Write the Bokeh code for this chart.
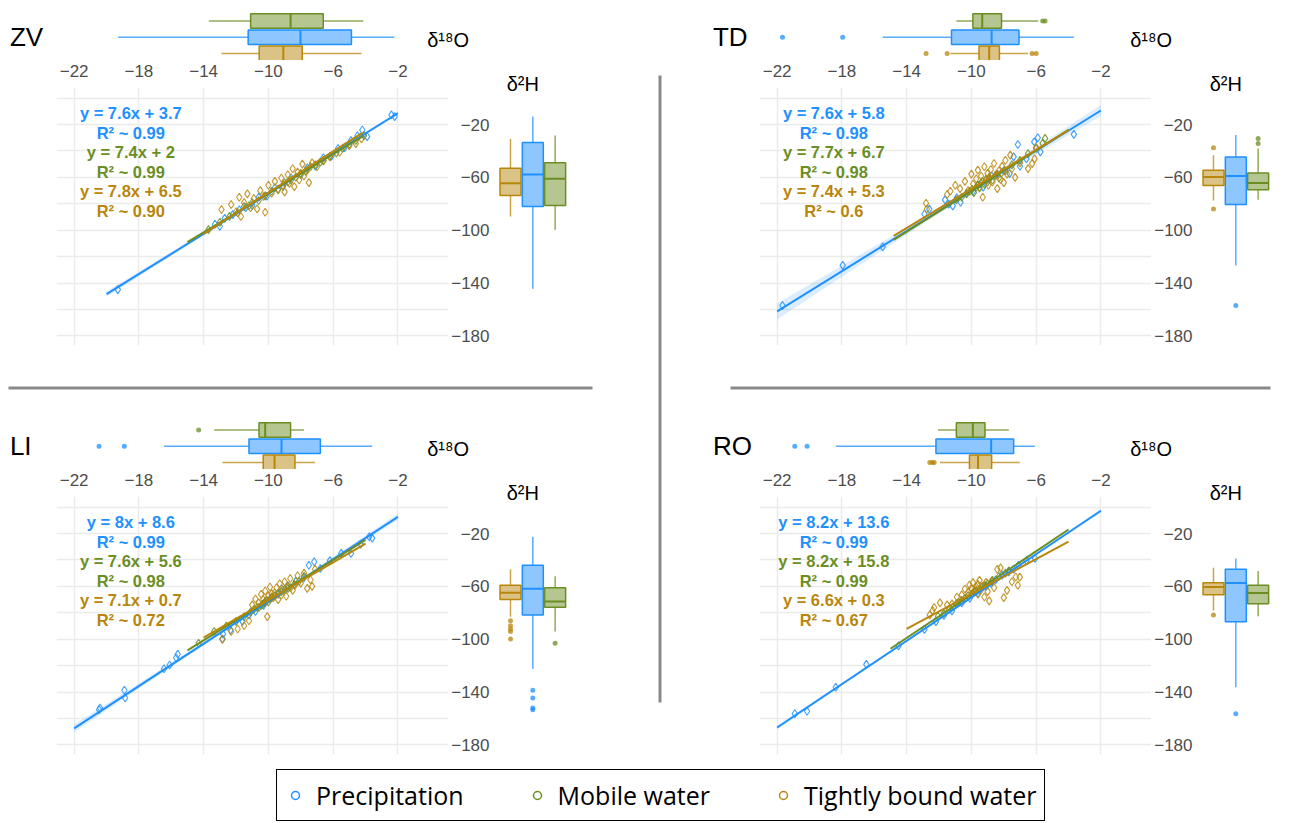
import numpy as np
from bokeh.plotting import figure
from bokeh.models import Range1d, FixedTicker, Legend, LegendItem, Grid, Spacer
from bokeh.layouts import row, column
from bokeh.core.properties import value
from bokeh.embed import file_html
from bokeh.resources import INLINE

# ---------------- data ----------------
series_names = ["Precipitation", "Mobile water", "Tightly bound water"]
series_colors = ["#1e90ff", "#6b8e23", "#b8860b"]

x_ticks = [-22, -18, -14, -10, -6, -2]
y_ticks = [-20, -60, -100, -140, -180]
y_grid_ticks = [0, -20, -40, -60, -80, -100, -120, -140, -160, -180]

# ---- ZV ----
zv_prec_o = [-19.3, -13.3, -13.0, -12.7, -12.2, -11.8, -11.4, -11.0, -10.6, -10.1, -9.6, -9.1, -8.6, -8.0, -7.6, -7.1, -6.6, -6.1, -5.7, -5.3, -4.9, -4.5, -4.2, -3.9, -2.4, -2.2]
zv_prec_h = [-144.9, -95.5, -97.0, -91.0, -88.2, -84.5, -82.9, -81.2, -75.0, -74.3, -67.8, -66.9, -60.3, -58.0, -52.8, -51.6, -45.1, -43.9, -38.2, -37.5, -32.1, -28.5, -24.2, -29.2, -12.7, -14.0]
zv_mob_o = [-13.7, -13.0, -12.4, -11.9, -11.5, -11.2, -11.0, -10.6, -10.2, -9.8, -9.4, -9.0, -8.8, -8.6, -8.3, -8.0, -7.7, -7.4, -7.1, -6.8, -6.6, -6.2, -5.8, -5.4, -5.0, -4.6, -4.1]
zv_mob_h = [-99.5, -94.0, -89.5, -86.8, -82.0, -81.5, -79.0, -77.5, -74.0, -70.5, -68.8, -64.2, -63.5, -62.0, -59.8, -57.0, -55.5, -52.0, -50.5, -48.5, -47.5, -44.0, -41.5, -38.0, -35.0, -32.0, -28.4]
zv_tig_o = [-12.9, -12.3, -12.0, -11.8, -11.7, -11.5, -11.3, -11.1, -10.9, -10.7, -10.5, -10.3, -10.2, -10.0, -9.8, -9.6, -9.4, -9.2, -9.1, -9.0, -8.8, -8.7, -8.5, -8.4, -8.2, -8.1, -7.9, -7.8, -7.6, -7.5, -7.3, -7.0, -6.6, -6.2, -5.6, -5.0, -4.6, -4.25]
zv_tig_h = [-84.3, -80.5, -86.0, -75.0, -89.6, -79.0, -72.5, -83.0, -76.0, -83.8, -70.0, -74.5, -86.4, -66.0, -72.0, -63.0, -69.5, -60.5, -66.0, -71.0, -58.0, -64.5, -53.5, -67.0, -56.0, -62.0, -50.0, -59.0, -54.5, -64.0, -49.0, -52.0, -47.0, -44.5, -41.0, -36.0, -34.5, -30.9]
zv_o_box = [[-19.28, -11.25, -8.02, -4.87, -2.21], [-13.68, -11.10, -8.63, -6.61, -4.14], [-12.90, -10.57, -9.08, -7.91, -4.25]]
zv_o_out = [[], [], []]
zv_h_box = [[-144.3, -82.1, -57.9, -33.7, -14.0], [-99.7, -81.3, -61.1, -49.0, -28.4], [-89.6, -73.8, -64.4, -53.1, -30.9]]
zv_h_out = [[], [], []]
zv_slope = [7.6, 7.4, 7.8]
zv_icpt = [3.7, 2.0, 6.5]
zv_r2 = ["0.99", "0.99", "0.90"]
zv_fit = [[-20.0, -2.0], [-15.0, -4.1], [-14.0, -4.2]]

# ---- TD ----
td_prec_o = [-21.67, -17.95, -15.48, -12.9, -12.6, -11.63, -11.4, -11.15, -10.9, -10.67, -10.3, -9.9, -9.6, -9.28, -8.9, -8.75, -8.4, -8.0, -7.64, -7.39, -7.13, -7.0, -6.6, -6.12, -5.9, -5.74, -3.67]
td_prec_h = [-156.9, -126.6, -112.6, -87.7, -84.0, -77.0, -80.2, -81.6, -75.5, -78.8, -72.0, -70.5, -66.0, -67.4, -61.5, -59.0, -57.5, -55.0, -57.2, -44.5, -35.1, -51.6, -46.0, -33.1, -30.0, -40.7, -27.5]
td_mob_o = [-10.93, -10.6, -10.3, -10.1, -9.95, -9.85, -9.7, -9.6, -9.5, -9.4, -9.33, -9.2, -9.1, -9.0, -8.9, -8.7, -8.5, -8.3, -8.14, -7.9, -7.5, -7.0, -6.5, -6.0, -5.6, -5.45]
td_mob_h = [-77.0, -75.0, -72.5, -70.5, -69.0, -71.5, -67.5, -66.0, -68.0, -64.5, -63.0, -65.0, -61.5, -63.5, -60.0, -62.0, -58.5, -60.5, -56.7, -55.0, -50.5, -47.0, -42.0, -38.1, -34.3, -30.5]
td_tig_o = [-12.8, -12.75, -11.5, -11.3, -11.0, -10.7, -10.4, -10.2, -10.0, -9.9, -9.7, -9.6, -9.5, -9.4, -9.3, -9.2, -9.1, -9.0, -8.95, -8.9, -8.8, -8.7, -8.6, -8.5, -8.4, -8.3, -8.2, -8.1, -8.0, -7.9, -7.8, -7.6, -7.5, -7.3, -7.0, -6.5, -6.25, -6.0, -6.1]
td_tig_h = [-79.6, -83.9, -73.0, -70.5, -66.0, -68.5, -63.0, -70.0, -57.5, -65.0, -61.0, -54.5, -67.5, -59.0, -75.0, -52.0, -62.5, -57.0, -66.0, -60.0, -54.0, -63.5, -49.5, -58.0, -68.5, -55.0, -61.5, -51.5, -64.0, -47.0, -57.5, -43.2, -53.5, -60.0, -49.0, -53.4, -49.6, -37.5, -46.0]
td_o_box = [[-15.48, -11.23, -8.75, -7.06, -3.67], [-10.93, -9.91, -9.33, -8.14, -5.87], [-11.3, -9.53, -8.9, -8.27, -6.5]]
td_o_out = [[-21.67, -17.95], [-5.6, -5.45], [-12.8, -11.5, -6.25, -6.0]]
td_h_box = [[-126.6, -80.6, -59.0, -44.5, -28.0], [-77.0, -69.4, -64.3, -56.7, -38.1], [-77.5, -66.1, -59.8, -54.7, -43.2]]
td_h_out = [[-156.9], [-30.5, -34.3], [-37.5, -83.9]]
td_slope = [7.6, 7.7, 7.4]
td_icpt = [5.8, 6.7, 5.3]
td_r2 = ["0.98", "0.98", "0.6"]
td_fit = [[-22.0, -2.0], [-14.8, -4.0], [-14.8, -4.0]]

# ---- LI ----
li_prec_o = [-20.46, -20.4, -18.9, -18.85, -16.45, -16.1, -15.7, -15.6, -12.84, -12.8, -12.34, -11.6, -11.2, -10.8, -10.3, -9.8, -9.4, -9.19, -8.8, -8.3, -7.8, -7.5, -7.17, -6.79, -6.2, -5.5, -4.9, -4.3, -3.77, -3.59]
li_prec_h = [-153.3, -152.0, -138.6, -144.4, -122.3, -119.5, -114.0, -111.4, -99.9, -96.1, -93.1, -86.5, -81.6, -79.0, -74.5, -68.5, -66.0, -61.8, -59.5, -56.0, -53.5, -44.0, -41.4, -46.5, -40.5, -35.0, -35.1, -28.0, -22.4, -23.5]
li_mob_o = [-14.31, -13.35, -12.6, -12.0, -11.5, -11.1, -10.9, -10.7, -10.58, -10.45, -10.35, -10.25, -10.2, -10.1, -10.0, -9.9, -9.75, -9.6, -9.4, -9.2, -9.0, -8.8, -8.63, -8.4, -8.1, -7.8]
li_mob_h = [-103.0, -94.1, -90.0, -86.5, -83.0, -79.5, -77.5, -76.0, -75.8, -74.5, -73.5, -72.5, -71.4, -70.5, -71.8, -69.5, -68.0, -67.0, -65.0, -64.0, -62.5, -61.5, -61.0, -58.5, -56.0, -52.4]
li_tig_o = [-12.84, -12.3, -11.9, -11.5, -11.2, -11.0, -10.8, -10.6, -10.45, -10.32, -10.2, -10.1, -10.07, -10.0, -9.9, -9.8, -9.7, -9.62, -9.5, -9.4, -9.3, -9.2, -9.1, -9.0, -8.9, -8.8, -8.65, -8.5, -8.36, -8.2, -8.0, -7.8, -7.6, -7.4, -7.12, -7.3]
li_tig_h = [-99.9, -94.1, -92.3, -89.8, -86.0, -74.0, -69.5, -72.5, -66.0, -69.9, -63.5, -71.0, -82.9, -67.0, -60.5, -65.5, -68.5, -64.8, -61.0, -70.0, -58.0, -66.5, -62.5, -56.5, -67.5, -60.0, -54.0, -63.0, -59.2, -52.0, -57.5, -50.0, -61.5, -55.0, -47.0, -60.0]
li_o_box = [[-16.45, -11.2, -9.19, -6.79, -3.59], [-13.35, -10.58, -10.2, -8.63, -7.8], [-12.84, -10.32, -9.62, -8.36, -7.12]]
li_o_out = [[-20.46, -18.9], [-14.31], []]
li_h_box = [[-122.3, -81.6, -61.8, -44.0, -22.4], [-94.1, -75.8, -71.4, -61.0, -52.4], [-82.9, -69.9, -64.8, -59.2, -47.0]]
li_h_out = [[-138.6, -144.4, -152.0, -153.3], [-103.0], [-86.0, -89.8, -92.3, -94.1, -99.9]]
li_slope = [8.0, 7.6, 7.1]
li_icpt = [8.6, 5.6, 0.7]
li_r2 = ["0.99", "0.98", "0.72"]
li_fit = [[-22.0, -2.0], [-15.0, -4.0], [-14.0, -4.0]]

# ---- RO ----
ro_prec_o = [-20.91, -20.15, -18.38, -16.49, -14.5, -12.9, -12.19, -11.7, -11.2, -10.6, -10.1, -9.6, -9.1, -8.78, -8.5, -8.1, -7.7, -7.39, -7.1, -6.6, -6.07]
ro_prec_h = [-156.4, -154.5, -136.3, -119.0, -105.0, -92.5, -86.7, -82.0, -78.5, -72.5, -69.0, -65.0, -60.0, -57.5, -55.0, -51.5, -49.0, -47.0, -44.0, -40.5, -38.9]
ro_mob_o = [-12.06, -11.7, -11.4, -11.1, -10.93, -10.8, -10.6, -10.4, -10.2, -10.0, -9.91, -9.8, -9.7, -9.5, -9.35, -9.16, -9.0, -8.7, -8.3, -7.9, -7.69]
ro_mob_h = [-82.6, -80.5, -77.5, -75.0, -73.2, -72.0, -70.5, -69.0, -67.0, -66.0, -65.1, -64.0, -63.5, -62.0, -60.5, -59.2, -58.0, -55.5, -52.5, -50.0, -48.3]
ro_tig_o = [-12.57, -12.4, -12.3, -11.94, -11.5, -11.2, -10.9, -10.6, -10.4, -10.2, -10.12, -10.0, -9.9, -9.8, -9.7, -9.6, -9.59, -9.5, -9.4, -9.3, -9.2, -9.1, -9.0, -8.9, -8.75, -8.6, -8.4, -8.2, -8.0, -7.8, -7.5, -7.26, -7.13, -7.01]
ro_tig_h = [-81.6, -78.3, -76.0, -72.5, -74.0, -73.2, -68.0, -66.4, -62.0, -64.5, -59.0, -61.5, -57.2, -63.0, -60.5, -58.5, -66.0, -55.5, -62.5, -60.0, -68.0, -57.0, -64.0, -71.0, -56.0, -61.0, -47.0, -46.0, -68.5, -63.0, -56.5, -52.9, -59.2, -53.0]
ro_o_box = [[-18.38, -12.19, -8.78, -7.39, -6.07], [-12.06, -10.93, -9.91, -9.16, -7.69], [-11.94, -10.12, -9.59, -8.75, -7.01]]
ro_o_out = [[-20.91, -20.15], [], [-12.57, -12.4, -12.3]]
ro_h_box = [[-136.3, -86.7, -57.5, -47.0, -38.9], [-82.6, -73.2, -65.1, -59.2, -48.3], [-78.3, -66.4, -60.5, -57.2, -46.0]]
ro_h_out = [[-156.4], [], [-81.6]]
ro_slope = [8.2, 8.2, 6.6]
ro_icpt = [13.6, 15.8, 0.3]
ro_r2 = ["0.99", "0.99", "0.67"]
ro_fit = [[-22.0, -2.0], [-15.0, -4.0], [-14.0, -4.0]]

# ---------------- styling / layout constants ----------------
FONT = "Liberation Sans"
TICK_COLOR = "#4d4d4d"
GRID_COLOR = "#ebebeb"
SEP_COLOR = "#8a8a8a"

SC_W, SC_H = 440, 298          # scatter figure size
BORDER_L, FRAME_W = 48, 392
SC_TOP, SC_BOT = 27, 13
FRAME_H = SC_H - SC_TOP - SC_BOT
TOP_H = 52
RB_BORDER_L, RB_FRAME_W = 43, 77
XR = (-23.09, 1.125)
YR = (-187.2, 8.0)
PPU_X = FRAME_W / (XR[1] - XR[0])
PPU_Y = FRAME_H / (YR[1] - YR[0])
TOP_YR = (0.562, 3.772)         # top box rows: tan=1, blue=2, green=3
RB_XR = (0.4623, 3.599)         # right box cols: tan=1, blue=2, green=3
TOP_POS = [2, 3, 1]             # prec, mobile, tight
RB_POS = [2, 3, 1]


def base_fig(**kw):
    p = figure(output_backend="svg", toolbar_location=None, **kw)
    p.outline_line_color = None
    p.background_fill_color = "white"
    p.border_fill_color = "white"
    try:
        p.frame_align = False
    except Exception:
        pass
    return p


def ci_band(xp, yp, slope, icpt, xs):
    xp = np.asarray(xp, float)
    yp = np.asarray(yp, float)
    n = len(xp)
    b, a = np.polyfit(xp, yp, 1)
    resid = yp - (a + b * xp)
    s = np.sqrt(np.sum(resid ** 2) / (n - 2))
    xbar = xp.mean()
    sxx = np.sum((xp - xbar) ** 2)
    half = 2.06 * s * np.sqrt(1.0 / n + (xs - xbar) ** 2 / sxx)
    yc = icpt + slope * xs
    return yc - half, yc + half


def label_text(p, x, y, txt, size):
    p.text(x=[x], y=[y], text=[txt], text_font=value(FONT), text_font_size=value(size),
           text_color="black", text_align="left", text_baseline="middle")


def build_panel(site, pw, pts_o, pts_h, o_box, o_out, h_box, h_out, slopes, icpts, r2s, fits):
    # ---------- scatter ----------
    sc = base_fig(width=SC_W, height=SC_H, x_range=Range1d(*XR), y_range=Range1d(*YR),
                  x_axis_location="above", y_axis_type=None,
                  min_border_left=BORDER_L, min_border_right=0,
                  min_border_top=SC_TOP, min_border_bottom=SC_BOT)
    ax = sc.xaxis[0]
    ax.ticker = FixedTicker(ticks=x_ticks)
    ax.major_label_text_font = FONT
    ax.major_label_text_font_size = "17px"
    ax.major_label_text_color = TICK_COLOR
    ax.axis_line_color = None
    ax.major_tick_line_color = None
    ax.minor_tick_line_color = None
    ax.major_label_standoff = 5
    sc.xgrid.ticker = FixedTicker(ticks=x_ticks)
    sc.xgrid.grid_line_color = GRID_COLOR
    sc.xgrid.grid_line_width = 1.5
    sc.add_layout(Grid(dimension=1, ticker=FixedTicker(ticks=y_grid_ticks),
                       grid_line_color=GRID_COLOR, grid_line_width=1.5))

    lo, hi = fits[0]
    xs = np.linspace(lo, hi, 60)
    b1, b2 = ci_band(pts_o[0], pts_h[0], slopes[0], icpts[0], xs)
    sc.varea(x=xs, y1=b1, y2=b2, fill_color=series_colors[0], fill_alpha=0.16)

    for k in range(3):
        sc.scatter(pts_o[k], pts_h[k], marker="diamond", size=8, fill_color=None,
                   line_color=series_colors[k], line_width=1.1, line_alpha=0.85)
    for k in range(3):
        lo, hi = fits[k]
        sc.line([lo, hi], [slopes[k] * lo + icpts[k], slopes[k] * hi + icpts[k]],
                line_color=series_colors[k], line_width=2)

    texts, tcols = [], []
    for k in range(3):
        texts.append("y = %gx + %g" % (slopes[k], icpts[k]))
        texts.append("R² ~ " + r2s[k])
        tcols += [series_colors[k], series_colors[k]]
    ty = [-11.3 - 14.8 * i for i in range(6)]
    sc.text(x=[-18.5] * 6, y=ty, text=texts, text_color=tcols,
            text_font=value(FONT), text_font_size=value("16.5px"),
            text_font_style="bold", text_align="center", text_baseline="middle")

    # ---------- top (d18O) boxplot: frame spans the whole panel width ----------
    tx0 = XR[0] - BORDER_L / PPU_X
    tx1 = XR[0] + (pw - BORDER_L) / PPU_X
    tp = base_fig(width=pw, height=TOP_H, x_range=Range1d(tx0, tx1), y_range=Range1d(*TOP_YR),
                  x_axis_type=None, y_axis_type=None,
                  min_border_left=0, min_border_right=0, min_border_top=0, min_border_bottom=0)
    tp.grid.visible = False
    hh = 0.45
    for k in range(3):
        c = series_colors[k]
        wl, q1, md, q3, wh = o_box[k]
        yv = TOP_POS[k]
        tp.segment(x0=[wl, q3], y0=[yv, yv], x1=[q1, wh], y1=[yv, yv],
                   line_color=c, line_width=1.5, line_alpha=0.75)
        tp.quad(left=[q1], right=[q3], bottom=[yv - hh], top=[yv + hh],
                fill_color=c, fill_alpha=0.5, line_color=c, line_width=1.5)
        tp.segment(x0=[md], y0=[yv - hh], x1=[md], y1=[yv + hh], line_color=c, line_width=2)
        if o_out[k]:
            tp.scatter(o_out[k], [yv] * len(o_out[k]), marker="circle", size=5,
                       fill_color=c, fill_alpha=0.75, line_color=None)
    label_text(tp, -25.97, 2.04, site, "26px")
    label_text(tp, -0.19, 1.80, "δ¹⁸O", "20px")

    # ---------- right (d2H) boxplot: frame extends up to the top of the row ----------
    rw = pw - SC_W
    ry1 = YR[1] + SC_TOP / PPU_Y
    rb = base_fig(width=rw, height=SC_H, x_range=Range1d(*RB_XR), y_range=Range1d(YR[0], ry1),
                  x_axis_type=None,
                  min_border_left=RB_BORDER_L, min_border_right=rw - RB_BORDER_L - RB_FRAME_W,
                  min_border_top=0, min_border_bottom=SC_BOT)
    rb.grid.visible = False
    ya = rb.yaxis[0]
    ya.ticker = FixedTicker(ticks=y_ticks)
    ya.major_label_text_font = FONT
    ya.major_label_text_font_size = "17px"
    ya.major_label_text_color = TICK_COLOR
    ya.axis_line_color = None
    ya.major_tick_line_color = None
    ya.minor_tick_line_color = None
    ya.major_label_standoff = 3
    hw = 0.47
    for k in range(3):
        c = series_colors[k]
        wl, q1, md, q3, wh = h_box[k]
        xv = RB_POS[k]
        rb.segment(x0=[xv, xv], y0=[wl, q3], x1=[xv, xv], y1=[q1, wh],
                   line_color=c, line_width=1.5, line_alpha=0.75)
        rb.quad(left=[xv - hw], right=[xv + hw], bottom=[q1], top=[q3],
                fill_color=c, fill_alpha=0.5, line_color=c, line_width=1.5)
        rb.segment(x0=[xv - hw], y0=[md], x1=[xv + hw], y1=[md], line_color=c, line_width=2)
        if h_out[k]:
            rb.scatter([xv] * len(h_out[k]), h_out[k], marker="circle", size=5,
                       fill_color=c, fill_alpha=0.75, line_color=None)
    label_text(rb, 0.83, 10.7, "δ²H", "20px")

    return column(tp, row(sc, rb))


LEFT_W, MID_W, RIGHT_W = 592, 111, 572
PANEL_H, HSEP_H = 350, 59

zv = build_panel("ZV", LEFT_W, [zv_prec_o, zv_mob_o, zv_tig_o], [zv_prec_h, zv_mob_h, zv_tig_h],
                 zv_o_box, zv_o_out, zv_h_box, zv_h_out, zv_slope, zv_icpt, zv_r2, zv_fit)
td = build_panel("TD", RIGHT_W, [td_prec_o, td_mob_o, td_tig_o], [td_prec_h, td_mob_h, td_tig_h],
                 td_o_box, td_o_out, td_h_box, td_h_out, td_slope, td_icpt, td_r2, td_fit)
li = build_panel("LI", LEFT_W, [li_prec_o, li_mob_o, li_tig_o], [li_prec_h, li_mob_h, li_tig_h],
                 li_o_box, li_o_out, li_h_box, li_h_out, li_slope, li_icpt, li_r2, li_fit)
ro = build_panel("RO", RIGHT_W, [ro_prec_o, ro_mob_o, ro_tig_o], [ro_prec_h, ro_mob_h, ro_tig_h],
                 ro_o_box, ro_o_out, ro_h_box, ro_h_out, ro_slope, ro_icpt, ro_r2, ro_fit)


def sep_fig(w, h, bl, br, bt, bb):
    f = base_fig(width=w, height=h, x_range=Range1d(0, 1), y_range=Range1d(0, 1),
                 x_axis_type=None, y_axis_type=None,
                 min_border_left=bl, min_border_right=br, min_border_top=bt, min_border_bottom=bb)
    f.grid.visible = False
    f.background_fill_color = SEP_COLOR
    return f


hsep_left = sep_fig(LEFT_W, HSEP_H, 0, 8, 28, 28)
hsep_right = sep_fig(RIGHT_W, HSEP_H, 19, 13, 28, 28)
vsep = sep_fig(MID_W, 2 * PANEL_H + HSEP_H, 58, 50, 67, 65)

# ---------------- legend ----------------
lg = base_fig(width=1275, height=55, x_range=Range1d(0, 1), y_range=Range1d(0, 1),
              x_axis_type=None, y_axis_type=None,
              min_border_left=0, min_border_right=0, min_border_top=0, min_border_bottom=0)
lg.grid.visible = False
items = []
for name, c in zip(series_names, series_colors):
    r = lg.scatter(x=[np.nan], y=[np.nan], marker="circle", size=11, fill_color=None,
                   line_color=c, line_width=1.5)
    items.append(LegendItem(label=name, renderers=[r]))
legend = Legend(items=items, location=(268, 1), orientation="horizontal",
                border_line_color="black", border_line_width=1.5, border_line_alpha=1,
                background_fill_color="white", background_fill_alpha=1,
                padding=8, spacing=63, label_standoff=11, glyph_width=20, glyph_height=24,
                label_text_font="Open Sans", label_text_font_size="25px",
                label_text_color="black", margin=0)
lg.add_layout(legend)

left_block = column(zv, hsep_left, li)
right_block = column(td, hsep_right, ro)
main = column(row(left_block, vsep, right_block), lg)
page = row(Spacer(width=8, height=8), column(Spacer(width=8, height=8), main))

open("out.html", "w").write(file_html(page, INLINE))
